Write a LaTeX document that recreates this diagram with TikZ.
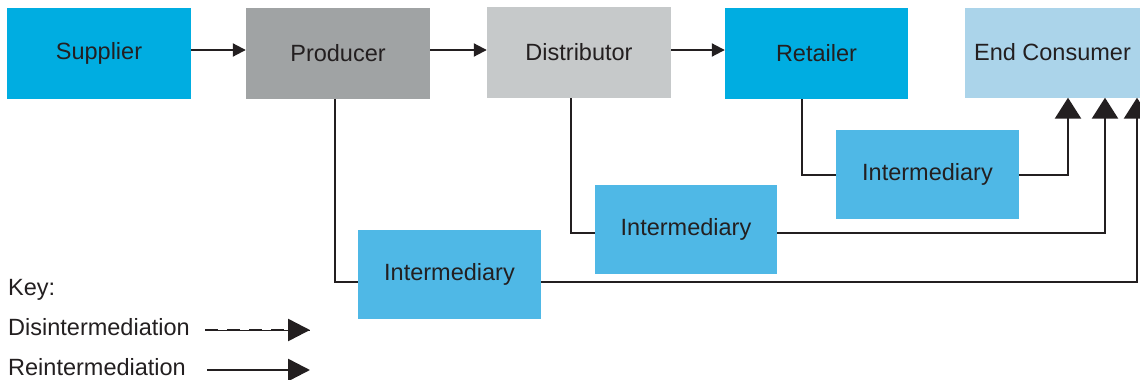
\documentclass[tikz,border=0pt]{standalone}
\usepackage{fontspec}
\setmainfont{Liberation Sans}
\usetikzlibrary{arrows.meta}
\definecolor{cyanA}{HTML}{00ADE1}
\definecolor{greyA}{HTML}{A0A3A4}
\definecolor{greyB}{HTML}{C6C9CA}
\definecolor{paleblue}{HTML}{ABD4EA}
\definecolor{midblue}{HTML}{4FB8E6}
\definecolor{ink}{HTML}{231F20}
\tikzset{
  box/.style={rectangle, inner sep=0pt, text=ink, font=\fontsize{23.5}{28}\selectfont},
  keytext/.style={anchor=west, inner sep=0pt, text=ink, font=\fontsize{23.5}{28}\selectfont},
  chain/.style={draw=ink, line width=2pt, -{Triangle[length=13pt,width=13pt]}},
  route/.style={draw=ink, line width=2.6pt},
  routearrow/.style={route, -{Triangle[length=21pt,width=26pt]}},
}
\begin{document}
\begin{tikzpicture}[x=1pt,y=-1pt]
\useasboundingbox (0,0) rectangle (1140,380);
% main chain
\node[box, fill=cyanA, minimum width=184pt, minimum height=91pt] (sup) at (99,53.5) {Supplier};
\node[box, fill=greyA, minimum width=184pt, minimum height=91pt] (pro) at (338,53.5) {Producer};
\node[box, fill=greyB, minimum width=184pt, minimum height=91pt] (dis) at (579,52.5) {Distributor};
\node[box, fill=cyanA, minimum width=183pt, minimum height=91pt] (ret) at (816.5,53.5) {Retailer};
\node[box, fill=paleblue, minimum width=175pt, minimum height=90pt] (ec) at (1052.5,52.5) {End Consumer};
% intermediaries
\node[box, fill=midblue, minimum width=183pt, minimum height=89pt] (i3) at (927.5,174.5) {Intermediary};
\node[box, fill=midblue, minimum width=182pt, minimum height=89pt] (i2) at (686,229.5) {Intermediary};
\node[box, fill=midblue, minimum width=183pt, minimum height=89pt] (i1) at (449.5,274.5) {Intermediary};
% chain arrows
\draw[chain] (sup.east |- 0,50) -- (pro.west |- 0,50);
\draw[chain] (pro.east |- 0,50) -- (dis.west |- 0,50);
\draw[chain] (dis.east |- 0,50) -- (ret.west |- 0,50);
% routing coordinates
\coordinate (r3) at (802,175);
\coordinate (r2) at (571,233);
\coordinate (r1) at (335,282);
\coordinate (e3) at (1068,0);
\coordinate (e2) at (1105,0);
\coordinate (e1) at (1137,0);
% reintermediation routes
\draw[route] (ret.south -| r3) |- (i3.west |- r3);
\draw[routearrow] (i3.east |- r3) -| (ec.south -| e3);
\draw[route] (dis.south -| r2) |- (i2.west |- r2);
\draw[routearrow] (i2.east |- r2) -| (ec.south -| e2);
\draw[route] (pro.south -| r1) |- (i1.west |- r1);
\draw[routearrow] (i1.east |- r1) -| (ec.south -| e1);
% key
\node[keytext] (key) at (8,290) {Key:};
\node[keytext] (kdis) at (8,327) {Disintermediation};
\node[keytext] (kre) at (8,367) {Reintermediation};
\coordinate (k1s) at (205,330);
\coordinate (k1e) at (310,330);
\coordinate (k2s) at (207,370);
\coordinate (k2e) at (310,370);
\draw[ink, line width=0.6pt] (k1s) -- (k1e);
\draw[ink, line width=2.6pt, dash pattern=on 13pt off 9pt, -{Triangle[length=22pt,width=22pt]}] (k1s) -- (k1e);
\draw[ink, line width=2.6pt, -{Triangle[length=22pt,width=22pt]}] (k2s) -- (k2e);
\end{tikzpicture}
\end{document}
